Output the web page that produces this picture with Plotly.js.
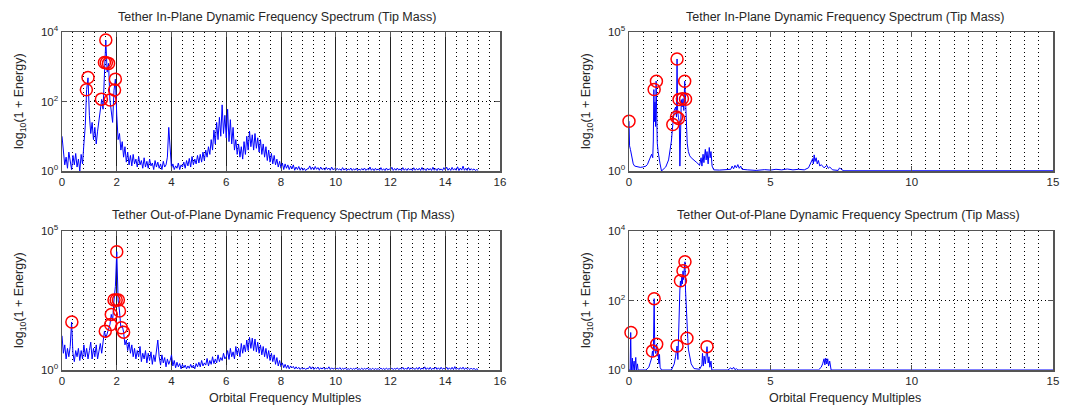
<!DOCTYPE html>
<html>
<head>
<meta charset="utf-8">
<script src="https://cdn.plot.ly/plotly-3.0.1.min.js"></script>
<style>html,body{margin:0;padding:0;background:#fff;}#chart{width:1081px;height:410px;}</style>
</head>
<body>
<div id="chart"></div>
<script>
// ---------- DATA ----------
// Left panels: evenly spaced frequency bins, step 0.05 orbital multiples, starting at 0
var binStartLeft = 0;
var binStepLeft = 0.05;

// Top-left: In-plane spectrum (1 + Energy)
var inPlaneLeftY = [
 10,3,1.5,2.5,1.2,3.5,1.8,1.1,2.8,1.5,3.2,1.3,2.2,1.0,3,1.6,6,20,220,480,
 40,12,25,8,18,6,14,30,45,115,60,1300,5800,700,1250,110,60,25,210,440,
 40,8,12,4,7,2.5,5,1.8,3.5,1.5,2.8,1.4,3,1.6,2.2,1.3,2.6,1.5,2,1.2,
 2.4,1.3,1.9,1.2,2.2,1.4,1.7,1.1,2.0,1.3,1.8,1.2,1.6,1.1,1.9,1.3,1.5,2.5,18,3,
 1.2,1.6,1.1,1.4,1.2,1.7,1.1,1.5,1.3,1.8,1.2,2.0,1.4,2.3,1.3,2.6,1.5,2.2,1.6,2.8,
 1.7,3,1.8,3.5,2,4,2.5,5,3,8,4,15,6,25,8,35,10,80,12,40,
 9,60,7,30,6,18,4,8,3,6,2.5,5,2.2,7,3,10,4,14,5,11,
 4,12,4.5,9,3.5,8,3,6,2.5,5,2,4,1.8,3.2,1.6,2.8,1.5,2.2,1.3,1.9,
 1.2,1.7,1.1,1.6,1.2,1.5,1.1,1.4,1.15,1.5,1.05,1.3,1.1,1.35,1.05,1.25,1.05,1.2,1.03,1.15,
 1.15,1.4,1.1,1.3,1.08,1.35,1.12,1.25,1.05,1.3,1.1,1.2,1.06,1.28,1.1,1.22,1.05,1.3,1.08,1.18,
 1.05,1.2,1.08,1.15,1.04,1.25,1.06,1.18,1.03,1.15,1.07,1.22,1.04,1.16,1.06,1.2,1.03,1.14,1.05,1.18,
 1.06,1.22,1.04,1.15,1.07,1.3,1.05,1.17,1.03,1.2,1.06,1.15,1.04,1.25,1.05,1.16,1.03,1.22,1.06,1.15,
 1.07,1.28,1.04,1.18,1.05,1.22,1.06,1.15,1.03,1.25,1.05,1.17,1.04,1.2,1.06,1.16,1.03,1.24,1.05,1.18,
 1.06,1.2,1.04,1.26,1.05,1.16,1.03,1.22,1.06,1.18,1.04,1.28,1.05,1.17,1.03,1.22,1.06,1.15,1.04,1.25,
 1.07,1.3,1.05,1.2,1.04,1.27,1.06,1.18,1.05,1.32,1.03,1.22,1.06,1.38,1.05,1.2,1.04,1.25,1.05,1.17,
 1.06,1.15,1.04,1.1,1.05
];
var inPlaneLeftPeaksX = [0.89, 0.95, 1.44, 1.55, 1.60, 1.62, 1.70, 1.76, 1.92, 1.95];
var inPlaneLeftPeaksY = [218, 490, 117, 1330, 5900, 1300, 1250, 110, 213, 440];

// Bottom-left: Out-of-plane spectrum (1 + Energy)
var outPlaneLeftY = [
 17,4,8,2.5,6,3,7,53,4,2,5,3,6,2.2,5,2.5,8,3,6,2.5,
 5,10,2.5,6,3,8,2.5,5,9,4,9,25,14,20,30,43,100,60,330,1000,
 18000,330,133,33,40,23,8,12,5,10,4,8,3,6,2.5,5,3,7,2,4,
 2.5,5,1.8,4,2.2,4.5,1.6,3.5,2,5,12,3,1.5,3.5,1.8,2.8,1.3,2.5,1.6,2.2,
 3.5,1.4,2.2,1.2,1.9,1.3,1.7,1.1,1.6,1.2,1.5,1.1,1.4,1.15,1.6,1.2,1.5,1.1,1.7,1.3,
 1.9,1.3,2.2,1.4,1.8,1.5,2.6,1.4,2.2,1.6,3,1.7,2.5,1.8,3.5,2,2.8,2.2,4,2.5,
 3,5,2.4,6,3,4.5,2.5,7,3.5,6,3,9,4,8,4.5,12,5,15,6,14,
 5,13,4.5,10,4,8,3.5,7,3,6,2.6,5,2.2,4,2,3.5,1.6,2.8,1.4,2.2,
 1.3,1.8,1.2,1.6,1.15,1.5,1.1,1.4,1.2,1.35,1.08,1.3,1.1,1.25,1.05,1.2,1.08,1.18,1.04,1.15,
 1.12,1.35,1.08,1.3,1.05,1.22,1.1,1.28,1.04,1.2,1.08,1.25,1.05,1.18,1.09,1.3,1.04,1.2,1.07,1.15,
 1.05,1.18,1.07,1.22,1.04,1.15,1.06,1.2,1.03,1.12,1.06,1.17,1.04,1.14,1.06,1.2,1.03,1.12,1.05,1.16,
 1.04,1.14,1.06,1.18,1.03,1.12,1.05,1.16,1.03,1.13,1.06,1.12,1.04,1.17,1.05,1.14,1.03,1.18,1.06,1.12,
 1.05,1.16,1.04,1.14,1.06,1.2,1.03,1.15,1.07,1.25,1.04,1.18,1.05,1.28,1.04,1.2,1.07,1.16,1.04,1.22,
 1.05,1.27,1.04,1.18,1.07,1.3,1.04,1.2,1.05,1.25,1.03,1.16,1.07,1.28,1.05,1.2,1.04,1.25,1.05,1.18,
 1.06,1.28,1.04,1.2,1.05,1.25,1.03,1.32,1.05,1.18,1.04,1.22,1.07,1.27,1.04,1.2,1.05,1.16,1.04,1.18,
 1.05,1.15,1.03,1.1,1.04
];
var outPlaneLeftPeaksX = [0.36, 1.58, 1.78, 1.80, 1.90, 1.98, 2.06, 2.10, 2.17, 2.25, 2.00];
var outPlaneLeftPeaksY = [53, 25, 43, 100, 330, 330, 330, 133, 33, 23, 18000];

// Top-right: In-plane spectrum (1 + Energy)
var inPlaneRightX = [0,0.02,0.05,0.08,0.1,0.15,0.2,0.3,0.4,0.5,0.6,0.65,0.7,0.75,0.8,0.84,0.86,0.88,0.90,0.92,0.94,0.96,0.98,1.0,1.03,1.06,1.1,1.15,1.2,1.3,1.4,1.45,1.5,1.55,1.58,1.6,1.65,1.68,1.70,1.72,1.75,1.78,1.80,1.82,1.85,1.88,1.91,1.94,1.97,2.0,2.03,2.06,2.1,2.15,2.2,2.3,2.4,2.5,2.55,2.58,2.62,2.65,2.7,2.73,2.76,2.8,2.84,2.87,2.9,2.94,2.98,3.0,3.2,3.4,3.6,3.65,3.7,3.75,3.8,3.85,3.9,3.95,4.0,4.2,4.5,4.8,5.0,5.2,5.4,5.6,5.8,6.0,6.2,6.35,6.45,6.5,6.52,6.55,6.58,6.62,6.66,6.7,6.75,6.8,6.9,7.0,7.05,7.1,7.2,7.4,7.45,7.5,7.6,8,15];
var inPlaneRightY = [62,8,6,4,2.5,1.8,1.5,1.4,1.35,1.4,1.5,1.7,2.2,2.8,4,3,12,850,60,300,40,1700,80,10,5,2.5,1.8,1.0,1.1,1.4,2.5,5,12,47,80,150,200,87,10700,150,82,60,1.5,100,370,200,400,150,1700,380,30,10,5,3.5,3,2.5,2,1.6,3,1.5,4,2,6,2.5,5,1.8,7,3,5,1.5,1.2,1.1,1.08,1.1,1.15,1.5,1.2,1.6,1.3,1.7,1.25,1.5,1.15,1.1,1.05,1.12,1.08,1.15,1.1,1.18,1.1,1.15,1.1,1.3,2,2.8,1.8,3.8,2.2,3,1.8,2.4,1.5,1.7,1.3,1.6,1.25,1.4,1.1,1.05,1.3,1.15,1.02,1.02,1.02];
var inPlaneRightPeaksX = [0, 0.89, 0.97, 1.55, 1.68, 1.70, 1.75, 1.77, 1.89, 1.97, 2.00];
var inPlaneRightPeaksY = [62, 850, 1700, 47, 87, 10700, 78, 370, 400, 1700, 380];

// Bottom-right: Out-of-plane spectrum (1 + Energy)
var outPlaneRightX = [0,0.04,0.06,0.08,0.12,0.14,0.18,0.2,0.24,0.26,0.3,0.32,0.6,0.7,0.75,0.8,0.83,0.86,0.89,0.91,0.94,0.98,1.0,1.03,1.06,1.08,1.1,1.15,1.5,1.6,1.65,1.7,1.73,1.76,1.78,1.80,1.82,1.84,1.87,1.89,1.91,1.93,1.96,1.98,2.0,2.02,2.05,2.08,2.1,2.15,2.2,2.3,2.5,2.58,2.6,2.63,2.66,2.7,2.76,2.8,2.83,2.86,2.9,2.93,3.5,3.6,3.65,3.7,3.75,3.8,3.85,6.7,6.8,6.85,6.9,6.93,6.96,7.0,7.03,7.06,7.1,7.15,15];
var outPlaneRightY = [1,1,12,1,2.2,1,1.8,1,2.3,1,1.5,1,1,1.2,1.6,2.2,3.5,2.5,113,4,3,5.5,2.5,3.2,1.5,2.8,1.2,1,1,1.5,2.5,4.9,2,30,100,200,365,250,500,300,710,400,900,1300,200,60,20,8,4,2.2,1.5,1.1,1.05,1.4,3,1.3,2.5,1.5,4.7,1.6,2.4,1.2,1.8,1,1,1.15,1.05,1.2,1.02,1.1,1,1,1.2,1.5,2.1,1.4,2.2,1.5,2.1,1.3,1.8,1,1];
var outPlaneRightPeaksX = [0.07, 0.83, 0.98, 0.89, 1.70, 1.82, 1.91, 1.98, 2.05, 2.76];
var outPlaneRightPeaksY = [12, 3.5, 5.5, 113, 4.9, 370, 720, 1300, 8.2, 4.7];

// Tick labels
var leftXTicks = [0,2,4,6,8,10,12,14,16];
var rightXTicks = [0,5,10,15];
var yTicks4 = [1, 100, 10000];
var yTickText4 = ['10<sup>0</sup>', '10<sup>2</sup>', '10<sup>4</sup>'];
var yTicks5 = [1, 100000];
var yTickText5 = ['10<sup>0</sup>', '10<sup>5</sup>'];

var titleIn = 'Tether In-Plane Dynamic Frequency Spectrum (Tip Mass)';
var titleOut = 'Tether Out-of-Plane Dynamic Frequency Spectrum (Tip Mass)';
var yTitle = 'log<sub>10</sub>(1 + Energy)';
var xTitle = 'Orbital Frequency Multiples';

// ---------- STYLE ----------
var FONT = 'Liberation Sans, Arial, Helvetica, sans-serif';
var TXT = '#262626';
var W = 1081, H = 410;
var lineStyle = {color: 'rgb(0,0,255)', width: 1};
var markerStyle = {symbol: 'circle-open', size: 12, color: 'rgb(255,0,0)', line: {color: 'rgb(255,0,0)', width: 1.5}};

function spec(xa, ya, opts) { return Object.assign({type: 'scatter', mode: 'lines', line: lineStyle, xaxis: xa, yaxis: ya, hoverinfo: 'skip'}, opts); }
function peaks(xa, ya, xs, ys) { return {type: 'scatter', mode: 'markers', x: xs, y: ys, marker: markerStyle, xaxis: xa, yaxis: ya, cliponaxis: false, hoverinfo: 'skip'}; }

var data = [
  spec('x', 'y', {x0: binStartLeft, dx: binStepLeft, y: inPlaneLeftY}),
  peaks('x', 'y', inPlaneLeftPeaksX, inPlaneLeftPeaksY),
  spec('x2', 'y2', {x: inPlaneRightX, y: inPlaneRightY}),
  peaks('x2', 'y2', inPlaneRightPeaksX, inPlaneRightPeaksY),
  spec('x3', 'y3', {x0: binStartLeft, dx: binStepLeft, y: outPlaneLeftY}),
  peaks('x3', 'y3', outPlaneLeftPeaksX, outPlaneLeftPeaksY),
  spec('x4', 'y4', {x: outPlaneRightX, y: outPlaneRightY}),
  peaks('x4', 'y4', outPlaneRightPeaksX, outPlaneRightPeaksY)
];

var tickFont = {family: FONT, size: 11.5, color: TXT};
var frame = {showline: true, mirror: 'ticks', linecolor: '#555', linewidth: 1.5, ticks: 'inside', ticklen: 5, tickcolor: '#555', zeroline: false, tickfont: tickFont, fixedrange: true};

function leftX(dom, anchor) {
  return Object.assign({}, frame, {domain: dom, anchor: anchor, range: [0, 16], tickmode: 'array', tickvals: leftXTicks,
    showgrid: true, gridcolor: '#222', gridwidth: 1,
    minor: {dtick: 0.4, tick0: 0, showgrid: true, gridcolor: '#000', gridwidth: 1, griddash: '1px,3px'}});
}
function rightX(dom, anchor) {
  return Object.assign({}, frame, {domain: dom, anchor: anchor, range: [0, 15], tickmode: 'array', tickvals: rightXTicks,
    showgrid: true, gridcolor: '#000', gridwidth: 1, griddash: '1px,3px',
    minor: {dtick: 0.5, tick0: 0, showgrid: true, gridcolor: '#000', gridwidth: 1, griddash: '1px,3px'}});
}
function logY(dom, anchor, top, vals, text) {
  return Object.assign({}, frame, {domain: dom, anchor: anchor, type: 'log', range: [0, top], tickmode: 'array', tickvals: vals, ticktext: text,
    showgrid: true, gridcolor: '#000', gridwidth: 1, griddash: '1px,3px'});
}

var xL = [62 / W, 500 / W], xR = [629 / W, 1053 / W];
var yT = [(H - 171) / H, (H - 32) / H], yB = [(H - 370) / H, (H - 231) / H];

function ann(text, px, py, extra) {
  return Object.assign({text: text, xref: 'paper', yref: 'paper', x: px / W, y: 1 - py / H, xanchor: 'center', yanchor: 'middle', showarrow: false,
    font: {family: FONT, size: 12.5, color: TXT}}, extra || {});
}

var layout = {
  width: W, height: H, margin: {l: 0, r: 0, t: 0, b: 0},
  paper_bgcolor: '#fff', plot_bgcolor: '#fff', showlegend: false,
  xaxis: leftX(xL, 'y'),
  yaxis: logY(yT, 'x', 4, yTicks4, yTickText4),
  xaxis2: rightX(xR, 'y2'),
  yaxis2: logY(yT, 'x2', 5, yTicks5, yTickText5),
  xaxis3: leftX(xL, 'y3'),
  yaxis3: logY(yB, 'x3', 5, yTicks5, yTickText5),
  xaxis4: rightX(xR, 'y4'),
  yaxis4: logY(yB, 'x4', 4, yTicks4, yTickText4),
  annotations: [
    ann(titleIn, 277, 17),
    ann(titleIn, 845, 17),
    ann(titleOut, 283, 215),
    ann(titleOut, 848, 215),
    ann(xTitle, 285, 398),
    ann(xTitle, 845, 398),
    ann(yTitle, 20, 101, {textangle: -90}),
    ann(yTitle, 587, 101, {textangle: -90}),
    ann(yTitle, 20, 300, {textangle: -90}),
    ann(yTitle, 587, 300, {textangle: -90})
  ]
};

Plotly.newPlot('chart', data, layout, {staticPlot: true, displayModeBar: false});
</script>
</body>
</html>
